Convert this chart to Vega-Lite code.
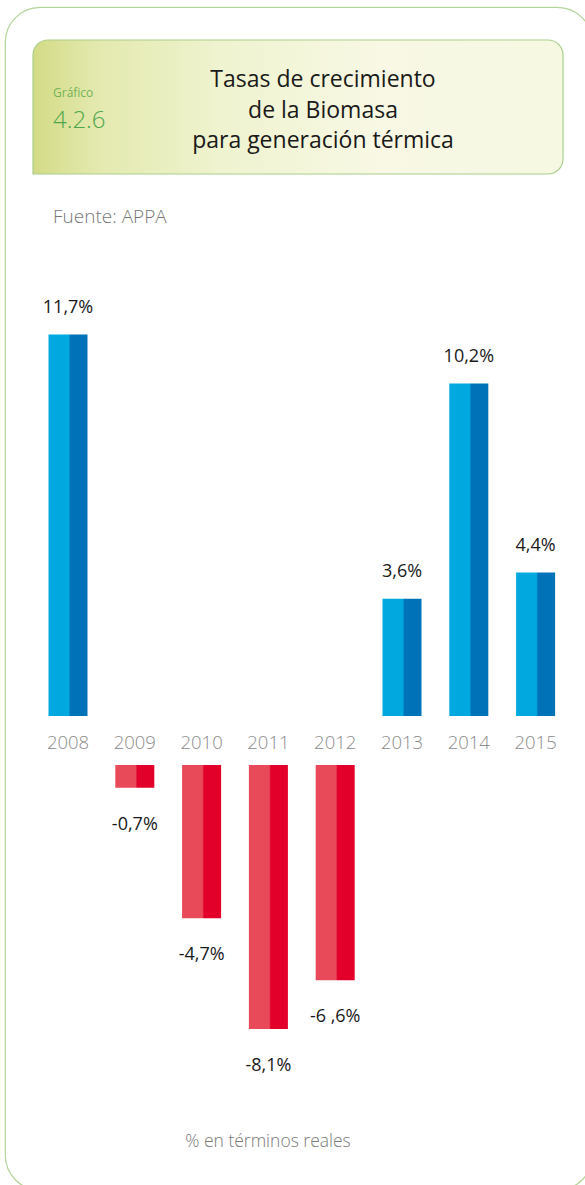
{
  "$schema": "https://vega.github.io/schema/vega-lite/v6.json",
  "width": 587,
  "height": 1183,
  "padding": {"left": 5, "top": 7, "right": 0, "bottom": 0},
  "autosize": {"type": "none"},
  "background": "white",
  "config": {
    "view": {"stroke": "#b4d59b", "strokeWidth": 1.2, "cornerRadius": 35},
    "font": "Open Sans"
  },
  "data": {
    "values": [
      {"year": "2008", "value": 11.7, "label": "11,7%"},
      {"year": "2009", "value": -0.7, "label": "-0,7%"},
      {"year": "2010", "value": -4.7, "label": "-4,7%"},
      {"year": "2011", "value": -8.1, "label": "-8,1%"},
      {"year": "2012", "value": -6.6, "label": "-6 ,6%"},
      {"year": "2013", "value": 3.6, "label": "3,6%"},
      {"year": "2014", "value": 10.2, "label": "10,2%"},
      {"year": "2015", "value": 4.4, "label": "4,4%"}
    ]
  },
  "layer": [
    {
      "data": {"values": [{}]},
      "mark": {
        "type": "rect",
        "stroke": "#a9cf8b",
        "strokeWidth": 1.2,
        "cornerRadiusTopLeft": 15,
        "cornerRadiusTopRight": 15,
        "cornerRadiusBottomRight": 15,
        "cornerRadiusBottomLeft": 0,
        "fill": {
          "gradient": "linear",
          "x1": 0, "y1": 0.5, "x2": 1, "y2": 0.5,
          "stops": [
            {"offset": 0, "color": "#d3db86"},
            {"offset": 0.12, "color": "#e3e9ae"},
            {"offset": 0.35, "color": "#eff3cf"},
            {"offset": 0.65, "color": "#f8f8e4"},
            {"offset": 1, "color": "#f6f8e2"}
          ]
        }
      },
      "encoding": {
        "x": {"value": 28},
        "x2": {"value": 558},
        "y": {"value": 33},
        "y2": {"value": 167}
      }
    },
    {
      "data": {"values": [{}]},
      "mark": {"type": "text", "text": "Gráfico", "align": "left", "baseline": "alphabetic", "fontSize": 12, "color": "#72b455"},
      "encoding": {"x": {"value": 48}, "y": {"value": 90}}
    },
    {
      "data": {"values": [{}]},
      "mark": {"type": "text", "text": "4.2.6", "align": "left", "baseline": "alphabetic", "fontSize": 24, "fontWeight": 300, "color": "#4ea64b"},
      "encoding": {"x": {"value": 48}, "y": {"value": 121}}
    },
    {
      "data": {"values": [{}]},
      "mark": {"type": "text", "text": ["Tasas de crecimiento", "de la Biomasa", "para generación térmica"], "align": "center", "baseline": "alphabetic", "fontSize": 23, "lineHeight": 30.5, "color": "#1a1a1a"},
      "encoding": {"x": {"value": 318}, "y": {"value": 80}}
    },
    {
      "data": {"values": [{}]},
      "mark": {"type": "text", "text": "Fuente: APPA", "align": "left", "baseline": "alphabetic", "fontSize": 19, "fontWeight": 300, "color": "#777777"},
      "encoding": {"x": {"value": 48}, "y": {"value": 216}}
    },
    {
      "data": {"values": [{}]},
      "mark": {"type": "text", "text": "% en términos reales", "align": "center", "baseline": "alphabetic", "fontSize": 17.5, "fontWeight": 300, "color": "#7a7a7a"},
      "encoding": {"x": {"value": 263}, "y": {"value": 1140}}
    },
    {
      "transform": [{"filter": "datum.value >= 0"}],
      "mark": {
        "type": "bar",
        "fill": {
          "gradient": "linear",
          "x1": 0, "y1": 0.5, "x2": 1, "y2": 0.5,
          "stops": [
            {"offset": 0, "color": "#00a8e0"},
            {"offset": 0.52, "color": "#00a8e0"},
            {"offset": 0.56, "color": "#0072b8"},
            {"offset": 1, "color": "#0072b8"}
          ]
        }
      },
      "encoding": {
        "x": {"field": "year", "type": "nominal", "axis": null, "scale": {"range": [29.6, 564], "paddingInner": 0.416, "paddingOuter": 0.208}},
        "y": {"field": "value", "type": "quantitative", "axis": null, "scale": {"domain": [-14.54, 21.75], "nice": false, "zero": false}},
        "y2": {"datum": 0}
      }
    },
    {
      "transform": [{"filter": "datum.value < 0"}],
      "mark": {
        "type": "bar",
        "yOffset": 49,
        "y2Offset": 49,
        "fill": {
          "gradient": "linear",
          "x1": 0, "y1": 0.5, "x2": 1, "y2": 0.5,
          "stops": [
            {"offset": 0, "color": "#e84a5a"},
            {"offset": 0.52, "color": "#e84a5a"},
            {"offset": 0.56, "color": "#e2002b"},
            {"offset": 1, "color": "#e2002b"}
          ]
        }
      },
      "encoding": {
        "x": {"field": "year", "type": "nominal"},
        "y": {"field": "value", "type": "quantitative"},
        "y2": {"datum": 0}
      }
    },
    {
      "transform": [{"filter": "datum.value >= 0"}],
      "mark": {"type": "text", "baseline": "alphabetic", "align": "center", "yOffset": -22, "fontSize": 18, "color": "#1a1a1a"},
      "encoding": {
        "x": {"field": "year", "type": "nominal"},
        "y": {"field": "value", "type": "quantitative"},
        "text": {"field": "label"}
      }
    },
    {
      "transform": [{"filter": "datum.value < 0"}],
      "mark": {"type": "text", "baseline": "alphabetic", "align": "center", "yOffset": 91, "fontSize": 18, "color": "#1a1a1a"},
      "encoding": {
        "x": {"field": "year", "type": "nominal"},
        "y": {"field": "value", "type": "quantitative"},
        "text": {"field": "label"}
      }
    },
    {
      "mark": {"type": "text", "baseline": "middle", "align": "center", "yOffset": 27, "fontSize": 18.5, "fontWeight": 300, "color": "#8c8c8c"},
      "encoding": {
        "x": {"field": "year", "type": "nominal"},
        "y": {"datum": 0},
        "text": {"field": "year"}
      }
    }
  ]
}
